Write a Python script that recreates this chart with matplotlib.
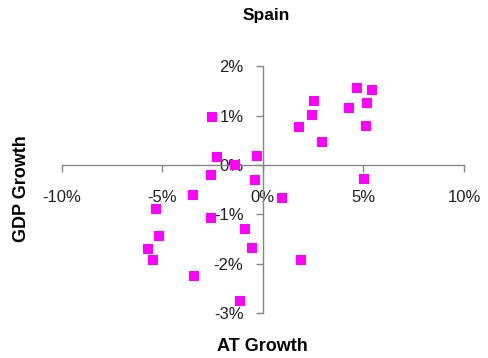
import matplotlib
matplotlib.use("Agg")
import matplotlib.pyplot as plt

plt.rcParams['font.family'] = ['Liberation Sans', 'DejaVu Sans']
plt.rcParams['axes.unicode_minus'] = False

# AT growth (%) and GDP growth (%)
at_growth = [4.70, 5.42, 2.54, 2.45, 4.28, 5.20, -2.52, 1.79, 5.12, 2.92,
             -2.26, -0.28, -1.39, -2.60, -0.38, 5.02, -3.47, 0.94, -5.30, -2.60,
             -0.87, -5.18, -5.69, -0.54, -5.48, 1.90, -3.43, -1.14]
gdp_growth = [1.56, 1.52, 1.30, 1.02, 1.16, 1.25, 0.97, 0.77, 0.80, 0.47,
              0.16, 0.18, 0.01, -0.20, -0.30, -0.28, -0.61, -0.66, -0.88, -1.07,
              -1.30, -1.43, -1.70, -1.68, -1.93, -1.93, -2.24, -2.75]

x_ticks = [-10, -5, 0, 5, 10]
x_labels = ['-10%', '-5%', '0%', '5%', '10%']
y_ticks = [-3, -2, -1, 0, 1, 2]
y_labels = ['-3%', '-2%', '-1%', '0%', '1%', '2%']

fig = plt.figure(figsize=(4.89, 3.58), dpi=100)
ax = fig.add_axes([0.1262, 0.1249, 0.8227, 0.690])
ax.plot(at_growth, gdp_growth, linestyle='none', marker='s', markersize=6.5,
        color='#FF00FF', markeredgewidth=0, clip_on=False, zorder=3)

ax.set_xlim(-10, 10)
ax.set_ylim(-3, 2)
ax.set_xticks(x_ticks)
ax.set_xticklabels(x_labels)
ax.set_yticks(y_ticks)
ax.set_yticklabels(y_labels)

for side in ['top', 'right']:
    ax.spines[side].set_visible(False)
ax.spines['left'].set_position(('data', 0))
ax.spines['bottom'].set_position(('data', 0))
for side in ['left', 'bottom']:
    ax.spines[side].set_color('#868686')
    ax.spines[side].set_linewidth(1.0)

ax.tick_params(axis='x', direction='out', length=5, width=1, color='#868686',
               labelsize=12, pad=13, labelcolor='#202020')
ax.tick_params(axis='y', direction='out', length=5, width=1, color='#868686',
               labelsize=12, pad=9, labelcolor='#202020')

fig.text(0.5435, 0.958, 'Spain', ha='center', va='center', fontsize=12.5, fontweight='bold')
fig.text(0.536, 0.033, 'AT Growth', ha='center', va='center', fontsize=13, fontweight='bold')
fig.text(0.043, 0.472, 'GDP Growth', ha='center', va='center', fontsize=13,
         fontweight='bold', rotation=90)

fig.savefig('out.png', dpi=100)
